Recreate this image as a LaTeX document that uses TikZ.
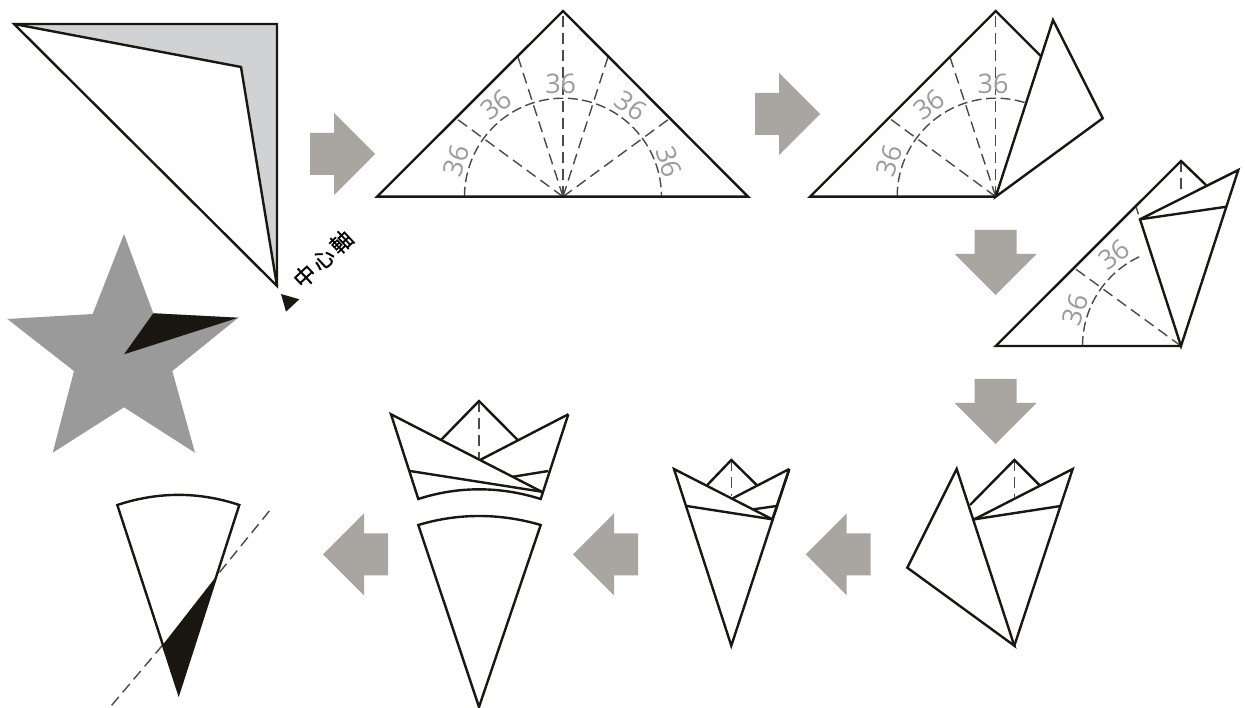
\documentclass[tikz,border=0pt]{standalone}
\usepackage{fontspec}
\setmainfont{Open Sans}
\newfontfamily\cjkfont[FakeBold=0.7]{Noto Sans CJK TC}
\definecolor{arrowgray}{HTML}{A9A5A1}
\definecolor{labelgray}{HTML}{9C9C9C}
\definecolor{foldgray}{HTML}{D1D2D4}
\definecolor{stargray}{HTML}{9A9A9A}
\definecolor{nearblack}{HTML}{1A1710}
\definecolor{dashgray}{HTML}{4A4A4A}
\tikzset{
  edge/.style={draw=nearblack,line width=2.4pt,line join=miter,miter limit=20},
  fold/.style={draw=dashgray,line width=1.4pt,dash pattern=on 11pt off 6pt},
  foldarc/.style={draw=dashgray,line width=1.4pt,dash pattern=on 10pt off 4.5pt},
  lab/.style={text=labelgray,font=\fontsize{27}{27}\selectfont,inner sep=0pt},
  flow/.pic={\fill[arrowgray] (0,-21) -- (24,-21) -- (24,-41) -- (65,0) -- (24,41) -- (24,21) -- (0,21) -- cycle;},
}
\begin{document}
\begin{tikzpicture}[x=1pt,y=-1pt]
\useasboundingbox (0,0) rectangle (1245,708);
\fill[white] (0,0) rectangle (1245,708);

% flow arrows
\pic at (310,154) {flow};
\pic at (755,114) {flow};
\pic[rotate=-90] at (995.7,230) {flow};
\pic[rotate=-90] at (995.7,379) {flow};
\pic[rotate=180] at (870.7,554.3) {flow};
\pic[rotate=180] at (638,554.3) {flow};
\pic[rotate=180] at (388,554.3) {flow};

% panel A
\coordinate (a1) at (14,24);
\coordinate (a2) at (277,24);
\coordinate (a3) at (277,286);
\coordinate (a4) at (241,67);
\fill[foldgray] (a1) -- (a2) -- (a3) -- (a4) -- cycle;
\draw[edge] (a1) -- (a2) -- (a3) -- cycle;
\draw[edge] (a1) -- (a4) -- (a3);
\node[font=\cjkfont\fontsize{22}{22}\selectfont,rotate=43,inner sep=0pt] (axis) at (323,259) {中\hspace{3pt}心\hspace{3pt}軸};
\coordinate (t1) at (281,294);
\coordinate (t2) at (299.3,299.3);
\coordinate (t3) at (286,311.7);
\fill[nearblack] (t1) -- (t2) -- (t3) -- cycle;

% panel B
\coordinate (bc) at (563,196.7);
\coordinate (bt) at (563,11);
\coordinate (bl) at (377,196.7);
\coordinate (br) at (748,196.7);
\coordinate (b1) at (518,57);
\coordinate (b2) at (608,57);
\coordinate (b3) at (457,119);
\coordinate (b4) at (669,119);
\foreach \p in {bt,b1,b2,b3,b4} \draw[fold] (bc) -- (\p);
\draw[foldarc] plot[domain=180:0,samples=90] ({563+98.5*cos(\x)},{196.7-98.5*sin(\x)});
\draw[edge] (bl) -- (bt) -- (br) -- cycle;
\node[lab,rotate=72] (bn1) at (456,160.7) {36};
\node[lab,rotate=36] (bn2) at (496,105) {36};
\node[lab] (bn3) at (560.7,84) {36};
\node[lab,rotate=-36] (bn4) at (631,106) {36};
\node[lab,rotate=-72] (bn5) at (669,162) {36};

% panel C
\coordinate (cc) at (995.7,196.7);
\coordinate (ct) at (995.7,11);
\coordinate (cl) at (810,196.7);
\coordinate (c1) at (950,57);
\coordinate (c2) at (889,118);
\coordinate (c3) at (1040.7,56);
\coordinate (c4) at (1053,20);
\coordinate (c5) at (1102.7,118.3);
\foreach \p in {ct,c1,c2} \draw[fold] (cc) -- (\p);
\draw[foldarc] plot[domain=180:72,samples=60] ({995.7+98.5*cos(\x)},{196.7-98.5*sin(\x)});
\draw[edge] (c3) -- (ct) -- (cl) -- (cc);
\draw[edge] (cc) -- (c4) -- (c5) -- cycle;
\node[lab,rotate=72] (cn1) at (889,160.7) {36};
\node[lab,rotate=36] (cn2) at (929,105) {36};
\node[lab] (cn3) at (993,84) {36};

% panel D
\coordinate (dc) at (1181,346);
\coordinate (dt) at (1181,161);
\coordinate (dl) at (995.7,346);
\coordinate (d1) at (1206,185);
\coordinate (d2) at (1238.3,170);
\coordinate (d3) at (1140,219.3);
\coordinate (d4) at (1226.7,206.7);
\coordinate (d5) at (1074.3,268);
\coordinate (d6) at (1136,206.7);
\coordinate (d7) at (1138.7,215);
\coordinate (d8) at (1181,191);
\draw[fold] (dc) -- (d5);
\draw[fold] (dt) -- (d8);
\draw[fold,dash pattern=on 8pt off 2pt] (d6) -- (d7);
\draw[foldarc] plot[domain=180:113,samples=40] ({1181+98.5*cos(\x)},{346-98.5*sin(\x)});
\draw[edge] (d1) -- (dt) -- (dl) -- (dc);
\draw[edge] (d3) -- (d2) -- (dc) -- cycle;
\draw[edge] (d3) -- (d4);
\node[lab,rotate=72] (dn1) at (1075,310) {36};
\node[lab,rotate=36] (dn2) at (1114,255) {36};

% panel E
\coordinate (et) at (1014.3,460);
\coordinate (eb) at (1014.3,645.7);
\coordinate (er) at (1072.7,469);
\coordinate (ef) at (956.7,469);
\coordinate (eg) at (907.3,567.7);
\coordinate (e1) at (974.3,519.3);
\coordinate (e2) at (1060.7,506);
\coordinate (e3) at (970,505);
\coordinate (e4) at (1039.3,485);
\coordinate (e5) at (1014.3,496.7);
\draw[fold] (et) -- (e5);
\draw[edge] (e3) -- (et) -- (e4);
\draw[edge] (e1) -- (er) -- (eb);
\draw[edge] (e1) -- (e2);
\draw[edge] (ef) -- (eb) -- (eg) -- cycle;

% panel F
\coordinate (ft) at (731.3,460);
\coordinate (fb) at (731.3,645.7);
\coordinate (fl) at (674,469);
\coordinate (fr) at (789.3,469);
\coordinate (f1) at (772.3,519.3);
\coordinate (f2) at (707.3,485);
\coordinate (f3) at (756.7,485);
\coordinate (f4) at (732.7,498.3);
\coordinate (f5) at (686.7,506);
\coordinate (f6) at (753.3,509.3);
\coordinate (f7) at (776.7,506);
\coordinate (f8) at (731.3,496);
\draw[fold] (ft) -- (f8);
\draw[edge] (f2) -- (ft) -- (f3);
\draw[edge] (fr) -- (f4);
\draw[edge] (f1) -- (fl) -- (fb) -- (fr);
\draw[edge] (fr) -- (f1);
\draw[edge] (f5) -- (f1);
\draw[edge] (f6) -- (f7);

% panel G upper
\coordinate (gt) at (479,401);
\coordinate (gl) at (391,414.3);
\coordinate (gr) at (568.3,414.3);
\coordinate (g1) at (418.3,499);
\coordinate (g2) at (540.7,499);
\coordinate (g3) at (541.7,491.7);
\coordinate (g4) at (441,440);
\coordinate (g5) at (517.7,440);
\coordinate (g6) at (480,460);
\coordinate (g7) at (410,471);
\coordinate (g8) at (513.3,476.7);
\coordinate (g9) at (548.3,471);
\coordinate (g10) at (479,458);
\draw[fold] (gt) -- (g10);
\draw[edge] (g4) -- (gt) -- (g5);
\draw[edge] (gr) -- (g6);
\draw[edge] (g3) -- (gl) -- (g1) .. controls (458,486.1) and (500,486.1) .. (g2) -- (gr);
\draw[edge] (g7) -- (g3);
\draw[edge] (g8) -- (g9);

% panel G lower
\coordinate (k1) at (418.3,525);
\coordinate (k2) at (540.7,525);
\coordinate (k3) at (479,707);
\draw[edge] (k1) .. controls (458,513) and (500,513) .. (k2) -- (k3) -- cycle;

% panel H
\coordinate (h1) at (117.3,505);
\coordinate (h2) at (239.3,505);
\coordinate (h3) at (178.7,693.3);
\coordinate (h4) at (162.7,645);
\coordinate (h5) at (216,576.7);
\coordinate (h6) at (269.3,511);
\coordinate (h7) at (110,707.3);
\fill[nearblack] (h4) -- (h5) -- (h3) -- cycle;
\draw[fold] (h6) -- (h5);
\draw[fold] (h4) -- (h7);
\draw[edge] (h1) .. controls (158,491.5) and (199,491.5) .. (h2) -- (h3) -- cycle;

% star
\coordinate (s1) at (153.3,313.3);
\coordinate (s2) at (238.3,317.7);
\coordinate (s3) at (124,354.3);
\fill[stargray] (124,234) -- (s1) -- (s2) -- (172.3,371) -- (195,452.7) -- (124,407.3) -- (52.7,452.7) -- (74,371) -- (7.3,319) -- (92.7,314) -- cycle;
\fill[nearblack] (s1) -- (s2) -- (s3) -- cycle;
\end{tikzpicture}
\end{document}
